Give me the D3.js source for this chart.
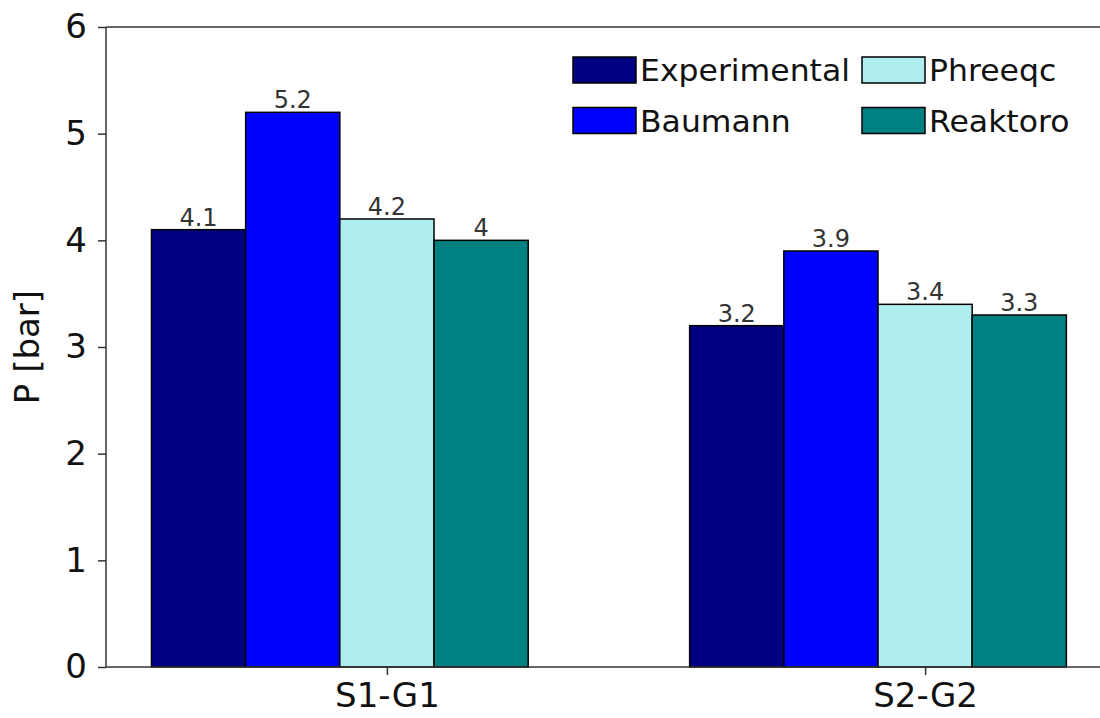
<!DOCTYPE html>
<html>
<head>
<meta charset="utf-8">
<script src="https://cdn.jsdelivr.net/npm/d3@7"></script>
<style>
  html, body { margin: 0; padding: 0; background: #fff; }
  svg { display: block; }
  text { font-family: "DejaVu Sans", sans-serif; }
</style>
</head>
<body>
<svg id="chart" width="1100" height="718"></svg>
<script>
const categories = ["S1-G1", "S2-G2"];
const seriesNames = ["Experimental", "Baumann", "Phreeqc", "Reaktoro"];
const seriesColors = ["#000080", "#0000ff", "#afeeee", "#008080"];
const experimental = [4.1, 3.2];
const baumann = [5.2, 3.9];
const phreeqc = [4.2, 3.4];
const reaktoro = [4.0, 3.3];
const yTicks = [0, 1, 2, 3, 4, 5, 6];
const yLabel = "P [bar]";
const barWidth = 0.175;

const seriesValues = [experimental, baumann, phreeqc, reaktoro];

(function () {
const svg = d3.select("#chart");
const mLeft = 106, mRight = 1100, mTop = 27, mBottom = 667;

const x = d3.scaleLinear().domain([-0.522, 1.325]).range([mLeft, mRight]);
const y = d3.scaleLinear().domain([0, 6]).range([mBottom, mTop]);

const bars = [];
seriesValues.forEach((vals, j) => {
  vals.forEach((v, i) => {
    bars.push({ g: i, j: j, v: v });
  });
});

const barG = svg.append("g");
barG.selectAll("rect").data(bars).enter().append("rect")
  .attr("x", d => x(d.g + (d.j - 2) * barWidth - barWidth / 2))
  .attr("width", d => x(barWidth) - x(0))
  .attr("y", d => y(d.v))
  .attr("height", d => y(0) - y(d.v))
  .attr("fill", d => seriesColors[d.j])
  .attr("stroke", "#000")
  .attr("stroke-width", 1.5);

barG.selectAll("text.val").data(bars).enter().append("text")
  .attr("class", "val")
  .attr("x", d => x(d.g + (d.j - 2) * barWidth))
  .attr("y", d => y(d.v) - 4)
  .attr("text-anchor", "middle")
  .attr("font-size", 24)
  .attr("fill", "#333")
  .text(d => d3.format("~g")(d.v));

const yAxis = d3.axisLeft(y).tickValues(yTicks).tickFormat(d3.format("d")).tickSize(8).tickPadding(11);
const gy = svg.append("g").attr("transform", `translate(${mLeft},0)`).call(yAxis);
gy.select(".domain").remove();
gy.selectAll(".tick line").attr("stroke", "#333").attr("stroke-width", 1.5);
gy.selectAll(".tick text").attr("font-size", 34).attr("fill", "#111").attr("font-family", "DejaVu Sans");

const xAxis = d3.axisBottom(x).tickValues(categories.map((c, i) => i)).tickFormat(i => categories[i]).tickSize(8).tickPadding(8);
const gx = svg.append("g").attr("transform", `translate(0,${mBottom})`).call(xAxis);
gx.select(".domain").remove();
gx.selectAll(".tick line").attr("stroke", "#333").attr("stroke-width", 1.5);
gx.selectAll(".tick text").attr("font-size", 34).attr("fill", "#111").attr("font-family", "DejaVu Sans");

const sp = svg.append("g").attr("stroke", "#333").attr("stroke-width", 1.5).attr("fill", "none");
sp.append("line").attr("x1", mLeft).attr("x2", mLeft).attr("y1", mTop).attr("y2", mBottom);
sp.append("line").attr("x1", mLeft).attr("x2", mRight).attr("y1", mBottom).attr("y2", mBottom);
sp.append("line").attr("x1", mLeft).attr("x2", mRight).attr("y1", mTop).attr("y2", mTop);

svg.append("text")
  .attr("transform", `translate(39,${(mTop + mBottom) / 2}) rotate(-90)`)
  .attr("text-anchor", "middle")
  .attr("font-size", 34)
  .attr("fill", "#111")
  .text(yLabel);

const legendItems = [
  { name: seriesNames[0], color: seriesColors[0], col: 0, row: 0 },
  { name: seriesNames[1], color: seriesColors[1], col: 0, row: 1 },
  { name: seriesNames[2], color: seriesColors[2], col: 1, row: 0 },
  { name: seriesNames[3], color: seriesColors[3], col: 1, row: 1 }
];
const colX = [573, 862];
const rowY = [70, 120.5];
const lg = svg.append("g");
legendItems.forEach(it => {
  lg.append("rect")
    .attr("x", colX[it.col]).attr("y", rowY[it.row] - 13)
    .attr("width", 63).attr("height", 26)
    .attr("fill", it.color).attr("stroke", "#000").attr("stroke-width", 1.5);
  lg.append("text")
    .attr("transform", `translate(${colX[it.col] + 67},${rowY[it.row] + 11}) scale(1.05,1)`)
    .attr("font-size", 30).attr("fill", "#111")
    .text(it.name);
});
})();
</script>
</body>
</html>
